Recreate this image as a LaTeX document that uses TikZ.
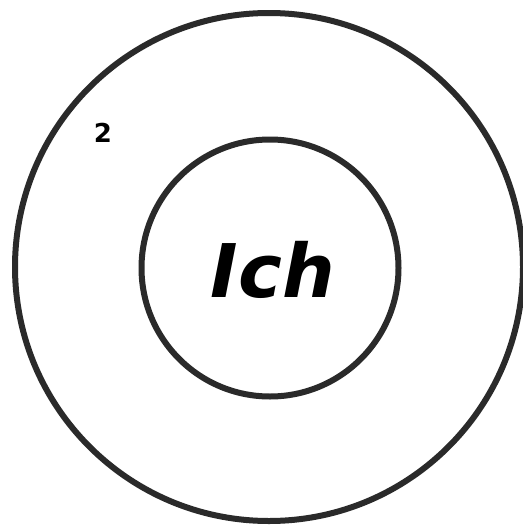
\documentclass[tikz,border=0pt]{standalone}
\usepackage{fontspec}
\newfontfamily\labelfont{DejaVu Sans}
\definecolor{ringcol}{HTML}{2A2A2A}
\tikzset{
  ring/.style={circle, draw=ringcol, line width=6pt, inner sep=0pt, fill=none},
  bigtext/.style={font=\labelfont\bfseries\itshape\fontsize{74}{80}\selectfont, inner sep=0pt},
  smalltext/.style={font=\labelfont\bfseries\fontsize{26}{30}\selectfont, inner sep=0pt}
}
\begin{document}
\begin{tikzpicture}[x=1pt,y=-1pt]
\useasboundingbox (0,0) rectangle (522,530);
\fill[white] (0,0) rectangle (522,530);
\node[ring, minimum size=508pt] (outer) at (269,267) {};
\node[ring, minimum size=257pt] (inner) at (270,268) {};
\node[bigtext] (ich) at (273,270) {Ich};
\node[smalltext] (two) at (103,133) {2};
\end{tikzpicture}
\end{document}
